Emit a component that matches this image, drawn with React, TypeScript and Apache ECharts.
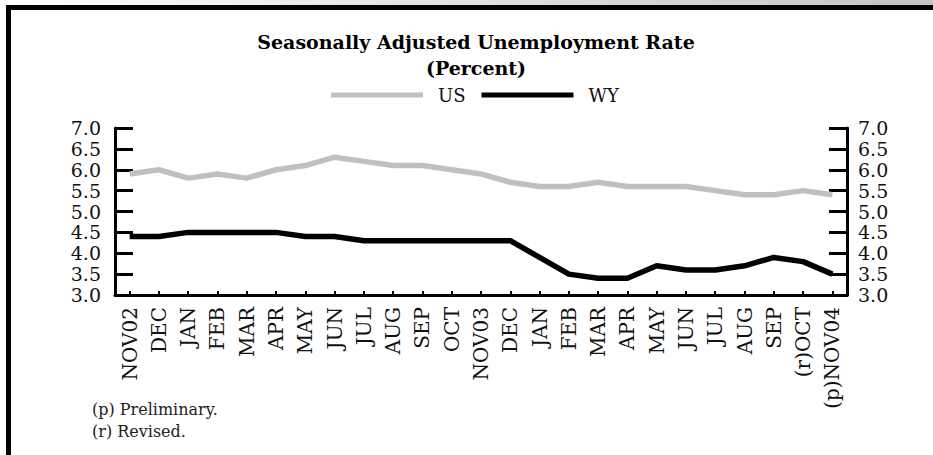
import React, { useEffect, useRef } from "react";
import * as echarts from "echarts";

const categories = [
  "NOV02", "DEC", "JAN", "FEB", "MAR", "APR", "MAY", "JUN", "JUL", "AUG", "SEP", "OCT",
  "NOV03", "DEC", "JAN", "FEB", "MAR", "APR", "MAY", "JUN", "JUL", "AUG", "SEP", "(r)OCT", "(p)NOV04",
];
const usValues = [5.9, 6.0, 5.8, 5.9, 5.8, 6.0, 6.1, 6.3, 6.2, 6.1, 6.1, 6.0, 5.9, 5.7, 5.6, 5.6, 5.7, 5.6, 5.6, 5.6, 5.5, 5.4, 5.4, 5.5, 5.4];
const wyValues = [4.4, 4.4, 4.5, 4.5, 4.5, 4.5, 4.4, 4.4, 4.3, 4.3, 4.3, 4.3, 4.3, 4.3, 3.9, 3.5, 3.4, 3.4, 3.7, 3.6, 3.6, 3.7, 3.9, 3.8, 3.5];
const seriesNames = ["US", "WY"];
const titleLines = ["Seasonally Adjusted Unemployment Rate", "(Percent)"];
const footnotes = ["(p) Preliminary.", "(r) Revised."];

const FONT = "DejaVu Serif";

export default function App() {
  const ref = useRef<HTMLDivElement>(null);
  useEffect(() => {
    if (!ref.current) return;
    const chart = echarts.init(ref.current, null, { renderer: "svg" });
    const yAxisCommon = {
      type: "value",
      min: 3,
      max: 7,
      interval: 0.5,
      splitLine: { show: false },
      axisLine: { show: true, lineStyle: { color: "#000", width: 3 } },
      axisTick: { show: true, inside: true, length: 18, lineStyle: { color: "#000", width: 3 } },
      axisLabel: {
        fontFamily: FONT,
        fontSize: 19,
        lineHeight: 19,
        color: "#111",
        formatter: (v: number) => v.toFixed(1),
      },
    };
    chart.setOption({
      animation: false,
      backgroundColor: "#fff",
      title: {
        text: titleLines.join("\n"),
        left: 476,
        top: 29,
        textAlign: "center",
        padding: 0,
        textStyle: { fontFamily: FONT, fontSize: 19, fontWeight: "bold", color: "#000", lineHeight: 26 },
      },
      legend: {
        data: seriesNames,
        top: 81,
        left: 326,
        itemWidth: 92,
        itemHeight: 5,
        itemGap: 16,
        icon: "rect",
        textStyle: { fontFamily: FONT, fontSize: 18, lineHeight: 18, color: "#111", padding: [0, 0, 0, 10] },
      },
      grid: { left: 115, right: 86, top: 128, bottom: 160, containLabel: false },
      xAxis: {
        type: "category",
        data: categories,
        boundaryGap: true,
        axisLine: { show: true, lineStyle: { color: "#000", width: 3 } },
        axisTick: { show: true, inside: true, alignWithLabel: true, length: 4, lineStyle: { color: "#000", width: 2 } },
        axisLabel: { rotate: 90, interval: 0, margin: 12, fontFamily: FONT, fontSize: 20, lineHeight: 22, color: "#111" },
        splitLine: { show: false },
      },
      yAxis: [
        { ...yAxisCommon, position: "left", axisLabel: { ...yAxisCommon.axisLabel, margin: 14 } },
        { ...yAxisCommon, position: "right", axisLabel: { ...yAxisCommon.axisLabel, margin: 11 } },
      ],
      series: [
        {
          name: seriesNames[0],
          type: "line",
          data: usValues,
          yAxisIndex: 0,
          symbol: "none",
          itemStyle: { color: "#c0c0c0" },
          lineStyle: { color: "#c0c0c0", width: 5.5 },
        },
        {
          name: seriesNames[1],
          type: "line",
          data: wyValues,
          yAxisIndex: 0,
          symbol: "none",
          itemStyle: { color: "#000" },
          lineStyle: { color: "#000", width: 5.5 },
        },
      ],
      graphic: [
        {
          type: "rect",
          shape: { x: 0, y: 0, width: 933, height: 5 },
          style: {
            fill: new echarts.graphic.LinearGradient(0, 0, 1, 0, [
              { offset: 0, color: "#ffffff" },
              { offset: 1, color: "#c4c4c4" },
            ]),
          },
        },
        { type: "rect", shape: { x: 6, y: 5, width: 927, height: 5 }, style: { fill: "#000" } },
        { type: "rect", shape: { x: 6, y: 5, width: 5, height: 450 }, style: { fill: "#000" } },
        {
          type: "text",
          x: 92,
          y: 409,
          style: { text: footnotes[0], fontFamily: FONT, fontSize: 16, fill: "#222", verticalAlign: "middle" },
        },
        {
          type: "text",
          x: 92,
          y: 431,
          style: { text: footnotes[1], fontFamily: FONT, fontSize: 16, fill: "#222", verticalAlign: "middle" },
        },
      ],
    });
    return () => chart.dispose();
  }, []);
  return (
    <div
      ref={ref}
      style={{ position: "fixed", left: 0, top: 0, width: 933, height: 455, background: "#fff" }}
    />
  );
}
